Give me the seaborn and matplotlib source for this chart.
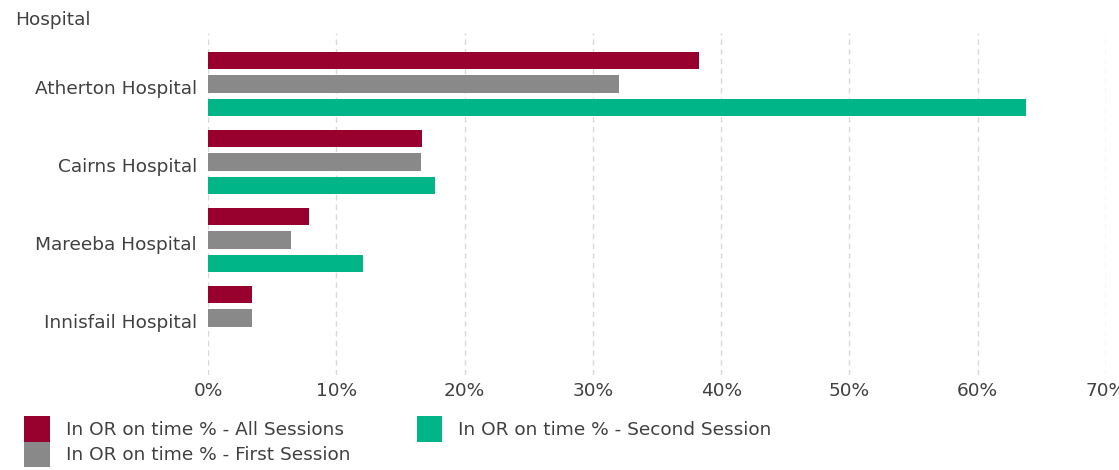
import matplotlib
matplotlib.use("Agg")
import matplotlib.pyplot as plt
import matplotlib.transforms as mtransforms
import seaborn as sns
import pandas as pd
import numpy as np
from matplotlib.ticker import FuncFormatter, MultipleLocator

hospitals = ["Atherton Hospital", "Cairns Hospital", "Mareeba Hospital", "Innisfail Hospital"]
series_names = ["In OR on time % - All Sessions", "In OR on time % - First Session",
                "In OR on time % - Second Session"]
all_sessions = [38.3, 16.7, 7.9, 3.4]
first_session = [32.0, 16.6, 6.5, 3.4]
second_session = [63.8, 17.7, 12.1, np.nan]
colors = ["#98002E", "#898989", "#00B588"]

rows = []
for name, vals in zip(series_names, [all_sessions, first_session, second_session]):
    for h, v in zip(hospitals, vals):
        rows.append({"Hospital": h, "Series": name, "Value": v})
df = pd.DataFrame(rows)

sns.set_theme(style="white")
plt.rcParams["font.family"] = ["DejaVu Sans"]
text_color = "#404040"
fs = 13.3

fig = plt.figure(figsize=(11.19, 4.70), dpi=100)
ax = fig.add_axes([208/1119, 1-375/470, (1106-208)/1119, (375-33)/470])

sns.barplot(data=df, y="Hospital", x="Value", hue="Series", order=hospitals,
            hue_order=series_names, palette=colors, orient="h",
            width=0.9, gap=0.245, ax=ax, legend=True, saturation=1, linewidth=0)

ax.set_xlim(0, 70)
ax.set_ylim(3.73, -0.654)
ax.xaxis.set_major_locator(MultipleLocator(10))
ax.xaxis.set_major_formatter(FuncFormatter(lambda v, p: f"{v:.0f}%"))
ax.grid(axis="x", color="#d9d9d9", linestyle=(0, (4, 3)), linewidth=1)
ax.grid(axis="y", visible=False)
ax.set_axisbelow(True)
for s in ax.spines.values():
    s.set_visible(False)
ax.tick_params(axis="x", length=0, pad=5, labelsize=fs, labelcolor=text_color)
ax.tick_params(axis="y", length=0, pad=8, labelsize=fs, labelcolor=text_color)
offset = mtransforms.ScaledTranslation(0, -3/100, fig.dpi_scale_trans)
for lbl in ax.get_yticklabels():
    lbl.set_transform(lbl.get_transform() + offset)
ax.set_xlabel("")
ax.set_ylabel("")
fig.text(15/1119, 1-20/470, "Hospital", ha="left", va="center", fontsize=fs, color=text_color)

handles, labels = ax.get_legend_handles_labels()
ax.get_legend().remove()
fig.legend(handles, labels, loc="upper left", bbox_to_anchor=(24/1119, 1-416/470),
           ncol=2, frameon=False, fontsize=fs, labelcolor=text_color,
           handlelength=1.4, handleheight=1.75, handletextpad=0.85,
           columnspacing=3.6, labelspacing=0.0, borderaxespad=0, borderpad=0)

fig.savefig("out.png", dpi=100)
